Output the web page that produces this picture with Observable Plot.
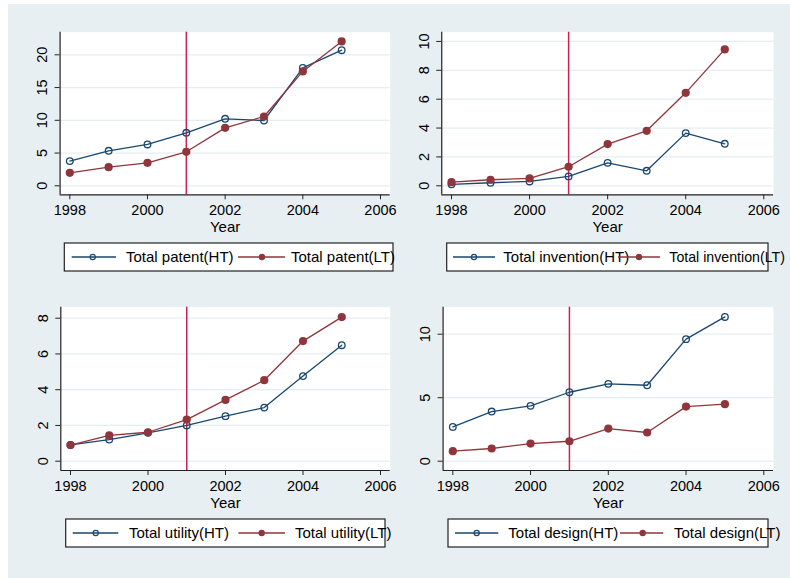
<!DOCTYPE html>
<html>
<head>
<meta charset="utf-8">
<script src="https://cdn.jsdelivr.net/npm/d3@7"></script>
<script src="https://cdn.jsdelivr.net/npm/@observablehq/plot@0.6"></script>
<style>
html, body { margin: 0; padding: 0; background: #ffffff; }
#root { position: relative; width: 790px; height: 578px; overflow: hidden; font-family: "Liberation Sans", Arial, sans-serif; }
#bg { position: absolute; left: 8px; top: 4px; width: 782px; height: 574px; background: #e8eff2; }
.panel { position: absolute; }
#legend { position: absolute; left: 0; top: 0; }
</style>
</head>
<body>
<div id="root"><div id="bg"></div></div>
<script>
// ---- data ----
const years = [1998, 1999, 2000, 2001, 2002, 2003, 2004, 2005];
const patentHT = [3.77, 5.34, 6.31, 8.09, 10.23, 9.97, 18.0, 20.7];
const patentLT = [1.98, 2.85, 3.51, 5.19, 8.85, 10.58, 17.46, 22.04];
const inventionHT = [0.10, 0.21, 0.30, 0.65, 1.59, 1.04, 3.65, 2.91];
const inventionLT = [0.25, 0.42, 0.51, 1.32, 2.89, 3.81, 6.44, 9.45];
const utilityHT = [0.91, 1.21, 1.59, 2.0, 2.52, 3.0, 4.76, 6.49];
const utilityLT = [0.90, 1.44, 1.62, 2.33, 3.43, 4.53, 6.72, 8.06];
const designHT = [2.70, 3.91, 4.36, 5.43, 6.09, 5.98, 9.61, 11.36];
const designLT = [0.79, 1.00, 1.39, 1.57, 2.57, 2.26, 4.30, 4.49];
const xTicks = [1998, 2000, 2002, 2004, 2006];
const policyYear = [2001];
const ticksPatent = [0, 5, 10, 15, 20];
const ticksInvention = [0, 2, 4, 6, 8, 10];
const ticksUtility = [0, 2, 4, 6, 8];
const ticksDesign = [0, 5, 10];
const xLabel = "Year";

// ---- style ----
const navy = "#1a476f";
const maroon = "#90353b";
const vlineColor = "#cc2250";
const gridColor = "#e4edf0";
const axisColor = "#222222";
const font = "'Liberation Sans', Arial, sans-serif";
const xDomain = [1997.75, 2006.25];

const panels = [
  {left: 0, top: 0, width: 395, height: 240, mL: 59.6, mR: 5.3, mT: 31.7, mB: 45.7,
   yDomain: [-1.374, 23.45], yTicks: ticksPatent, ht: patentHT, lt: patentLT,
   htLabel: "Total patent(HT)", ltLabel: "Total patent(LT)",
   legend: {x0: 64.3, x1: 393, y0: 243, y1: 271, k1: [71.7, 116, 92.7, 126], k2: [238, 285, 262, 291]}},
  {left: 395, top: 0, width: 395, height: 240, mL: 46.24, mR: 16.94, mT: 31.7, mB: 45.7,
   yDomain: [-0.624, 10.64], yTicks: ticksInvention, ht: inventionHT, lt: inventionLT,
   htLabel: "Total invention(HT)", ltLabel: "Total invention(LT)",
   legend: {x0: 446.7, x1: 768, y0: 243, y1: 271, k1: [453, 495, 474, 503.3], k2: [618, 660, 639, 669.3], size2: 14.2}},
  {left: 0, top: 280, width: 395, height: 230, mL: 60.3, mR: 5.3, mT: 26.7, mB: 40,
   yDomain: [-0.52, 8.615], yTicks: ticksUtility, ht: utilityHT, lt: utilityLT,
   htLabel: "Total utility(HT)", ltLabel: "Total utility(LT)",
   legend: {x0: 65.7, x1: 385, y0: 519, y1: 547, k1: [72.7, 118.3, 95.7, 129], k2: [238.3, 285, 261.7, 295]}},
  {left: 395, top: 280, width: 395, height: 230, mL: 47.6, mR: 17, mT: 26.7, mB: 40,
   yDomain: [-0.732, 12.126], yTicks: ticksDesign, ht: designHT, lt: designLT,
   htLabel: "Total design(HT)", ltLabel: "Total design(LT)",
   legend: {x0: 448, x1: 768, y0: 519, y1: 547, k1: [455, 498.3, 476.7, 508.3], k2: [620, 663.3, 642.7, 674]}}
];

const root = document.getElementById("root");

for (const p of panels) {
  const rowsHT = years.map((year, i) => ({year, value: p.ht[i]}));
  const rowsLT = years.map((year, i) => ({year, value: p.lt[i]}));
  const chart = Plot.plot({
    width: p.width, height: p.height,
    marginLeft: p.mL, marginRight: p.mR, marginTop: p.mT, marginBottom: p.mB,
    x: {domain: xDomain},
    y: {domain: p.yDomain},
    style: {background: "none", fontFamily: font, fontSize: "14.5px", color: "#000", overflow: "visible"},
    marks: [
      Plot.frame({fill: "white", stroke: null}),
      Plot.gridY(p.yTicks, {stroke: gridColor, strokeOpacity: 1, strokeWidth: 1.3}),
      Plot.ruleX(policyYear, {stroke: vlineColor, strokeWidth: 1.5}),
      Plot.lineY(rowsHT, {x: "year", y: "value", stroke: navy, strokeWidth: 1.3}),
      Plot.dot(rowsHT, {x: "year", y: "value", r: 3.3, stroke: navy, fill: "none", strokeWidth: 1.3}),
      Plot.lineY(rowsLT, {x: "year", y: "value", stroke: maroon, strokeWidth: 1.3}),
      Plot.dot(rowsLT, {x: "year", y: "value", r: 4.1, fill: maroon, stroke: null}),
      Plot.ruleX([xDomain[0]], {stroke: axisColor, strokeWidth: 1.2}),
      Plot.ruleY([p.yDomain[0]], {stroke: axisColor, strokeWidth: 1.2}),
      Plot.axisX(xTicks, {tickSize: 5, tickPadding: 5, tickFormat: "d", label: null, stroke: axisColor, fill: "#000"}),
      Plot.axisY(p.yTicks, {tickSize: 5, tickRotate: -90, textAnchor: "middle", lineAnchor: "middle", tickPadding: 12.5, label: null, stroke: axisColor, fill: "#000"}),
      Plot.text([xLabel], {text: d => d, frameAnchor: "bottom", dy: 32.5, lineAnchor: "middle", fontSize: 15, fill: "#000"})
    ]
  });
  chart.classList.add("panel");
  chart.style.left = p.left + "px";
  chart.style.top = p.top + "px";
  root.appendChild(chart);
}

// ---- legends ----
const svg = d3.select(root).append("svg")
  .attr("id", "legend")
  .attr("width", 790).attr("height", 578)
  .style("font-family", font);

for (const p of panels) {
  const L = p.legend;
  const cy = (L.y0 + L.y1) / 2;
  svg.append("rect")
    .attr("x", L.x0).attr("y", L.y0)
    .attr("width", L.x1 - L.x0).attr("height", L.y1 - L.y0)
    .attr("fill", "white").attr("stroke", "#222").attr("stroke-width", 1.2);
  const entries = [
    {k: L.k1, color: navy, hollow: true, label: p.htLabel, size: 15},
    {k: L.k2, color: maroon, hollow: false, label: p.ltLabel, size: L.size2 || 15}
  ];
  for (const e of entries) {
    svg.append("line")
      .attr("x1", e.k[0]).attr("x2", e.k[1]).attr("y1", cy).attr("y2", cy)
      .attr("stroke", e.color).attr("stroke-width", 1.3);
    svg.append("circle")
      .attr("cx", e.k[2]).attr("cy", cy).attr("r", e.hollow ? 2.6 : 3.2)
      .attr("fill", e.hollow ? "none" : e.color)
      .attr("stroke", e.hollow ? e.color : "none").attr("stroke-width", 1.2);
    svg.append("text")
      .attr("x", e.k[3]).attr("y", cy).attr("dy", "0.35em")
      .attr("font-size", e.size).attr("fill", "#000")
      .text(e.label);
  }
}
</script>
</body>
</html>
